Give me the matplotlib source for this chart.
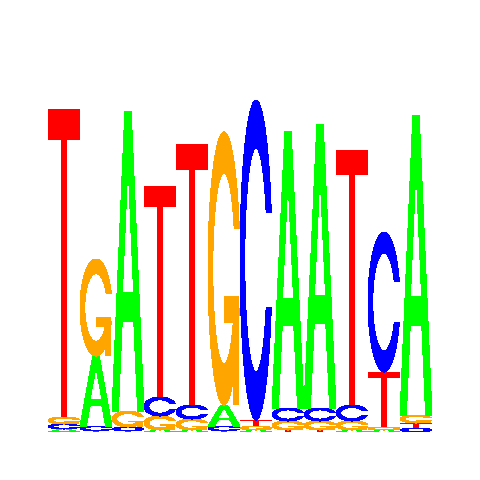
import numpy as np
import matplotlib
matplotlib.use("Agg")
import matplotlib.pyplot as plt
from matplotlib.patches import Polygon

positions = list(range(1, 13))
letters = ["A", "C", "G", "T"]
A = [0.018, 0.42, 1.80, 0.012, 0.012, 0.126, 0.012, 1.658, 1.70, 0.012, 0.012, 1.796]
C = [0.030, 0.030, 0.024, 0.114, 0.084, 0.030, 1.922, 0.078, 0.078, 0.096, 0.841, 0.024]
G = [0.042, 0.583, 0.096, 0.084, 0.066, 1.640, 0.024, 0.054, 0.054, 0.054, 0.018, 0.048]
T = [1.850, 0.006, 0.006, 1.267, 1.568, 0.006, 0.036, 0.012, 0.012, 1.532, 0.330, 0.030]
heights = {"A": A, "C": C, "G": G, "T": T}
colors = {"A": "#00ff00", "C": "#0000ff", "G": "#ffa500", "T": "#ff0000"}


def c_shape():
    a1 = np.linspace(0.3 + np.pi / 2, np.pi, 100)
    a2 = np.linspace(np.pi, 1.5 * np.pi, 100)
    xl1, yl1 = 0.5 + 0.5 * np.sin(a1), 0.5 + 0.5 * np.cos(a1)
    xl2, yl2 = 0.5 + 0.5 * np.sin(a2), 0.5 + 0.5 * np.cos(a2)
    xl = np.concatenate([xl1, xl2])
    yl = np.concatenate([yl1, yl2])
    xo = np.concatenate([xl, xl[::-1]])
    yo = np.concatenate([yl, 1 - yl[::-1]])
    xi1, yi1 = 0.5 + 0.35 * np.sin(a1), 0.5 + 0.35 * np.cos(a1)
    m = yi1 <= yl1.max()
    xi1, yi1 = xi1[m], yi1[m].copy()
    yi1[0] = yl1.max()
    xi2, yi2 = 0.5 + 0.35 * np.sin(a2), 0.5 + 0.35 * np.cos(a2)
    xi = np.concatenate([xi1, xi2])
    yi = np.concatenate([yi1, yi2])
    x1 = np.concatenate([xi, xi[::-1]])
    y1 = np.concatenate([yi, 1 - yi[::-1]])
    x = np.concatenate([xo, x1[::-1]])
    y = np.concatenate([yo, y1[::-1]])
    return x, y, xl1.max()


def shapes(ch):
    if ch == "A":
        xo = np.array([0, 4, 6, 10, 8, 6.8, 3.2, 2, 0]) / 10
        yo = np.array([0, 10, 10, 0, 0, 3, 3, 0, 0]) / 10
        xi = np.array([3.6, 5, 6.4, 3.6]) / 10
        yi = np.array([4, 7.5, 4, 4]) / 10
        return [(xo, yo, colors["A"]), (xi, yi, "white")]
    if ch == "T":
        x = np.array([0, 10, 10, 6, 6, 4, 4, 0]) / 10
        y = np.array([10, 10, 9, 9, 0, 0, 9, 9]) / 10
        return [(x, y, colors["T"])]
    if ch == "C":
        x, y, _ = c_shape()
        return [(x, y, colors["C"])]
    if ch == "G":
        x, y, r1 = c_shape()
        h1 = 0.4
        xa = np.array([r1, 0.5, 0.5, r1 - 0.2, r1 - 0.2, r1, r1])
        ya = np.array([h1, h1, h1 - 0.1, h1 - 0.1, 0, 0, h1])
        return [(x, y, colors["G"]), (xa, ya, colors["G"])]


def draw_letter(ax, ch, x0, y0, w, h):
    for xs, ys, col in shapes(ch):
        pts = np.column_stack([x0 + w * xs, y0 + h * ys])
        ax.add_patch(Polygon(pts, closed=True, facecolor=col,
                             edgecolor="none", lw=0, antialiased=False))


fig = plt.figure(figsize=(4.8, 4.8), dpi=100)
ax = fig.add_axes([0, 0, 1, 1])
ax.set_xlim(-1, 14)
ax.set_ylim(-48 / 166.5, 432 / 166.5)
ax.axis("off")

for i, p in enumerate(positions):
    col = sorted(letters, key=lambda L: heights[L][i])
    y = 0.0
    for L in col:
        h = heights[L][i]
        if h > 0:
            draw_letter(ax, L, p - 0.5, y, 1.0, h)
        y += h

fig.savefig("out.png", dpi=100, facecolor="white")
